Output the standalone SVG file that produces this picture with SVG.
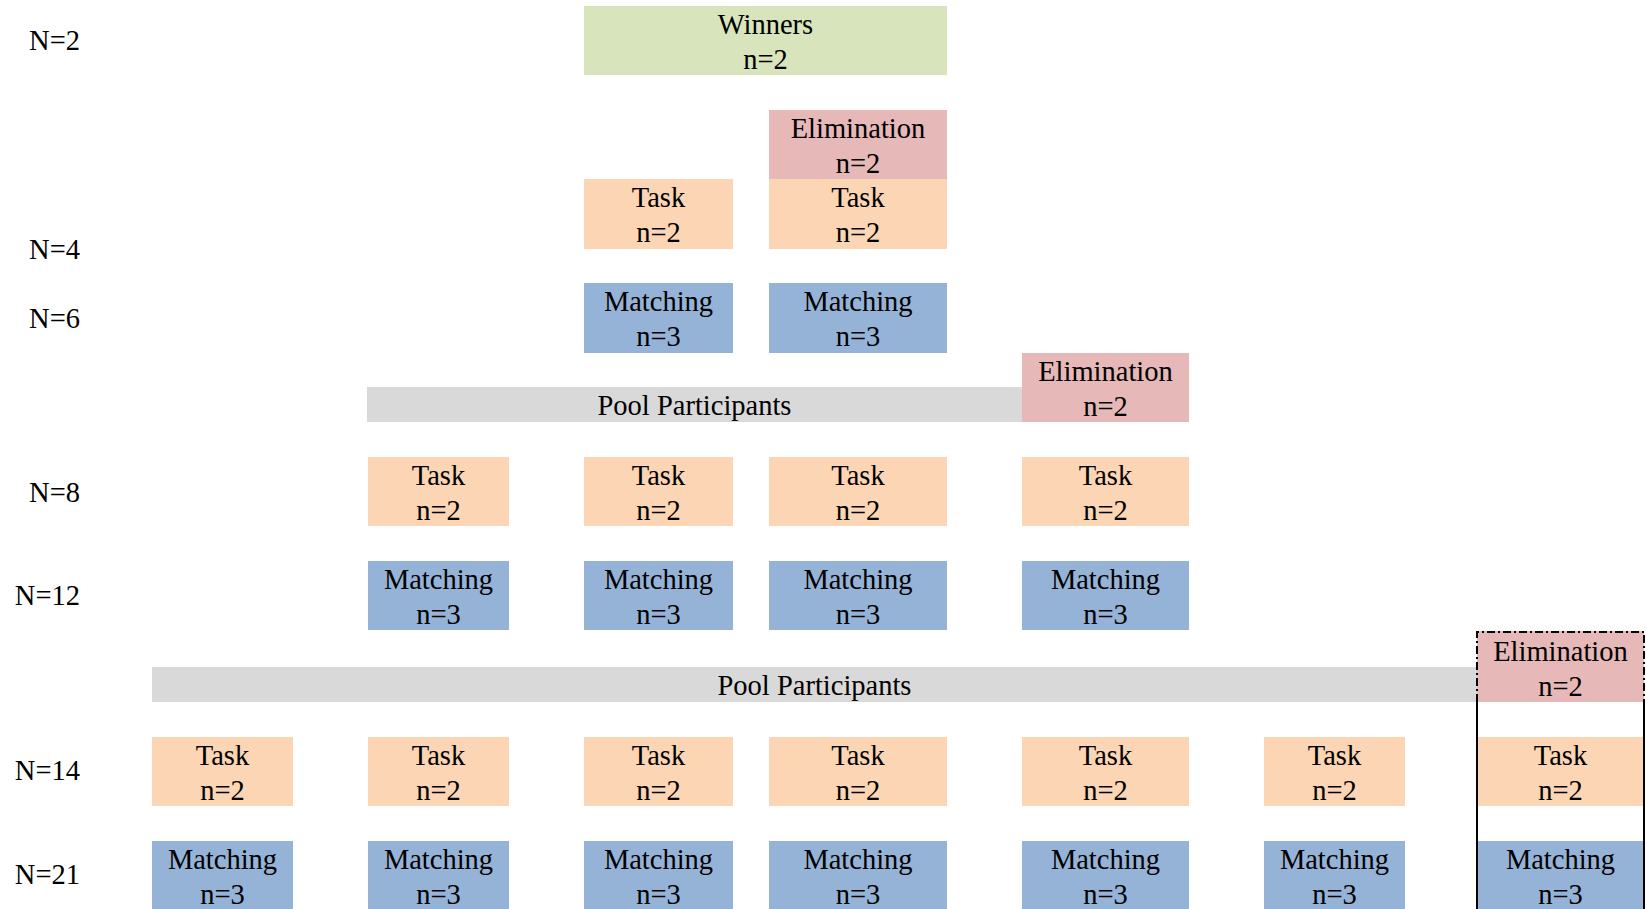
<svg xmlns="http://www.w3.org/2000/svg" width="1646" height="909" viewBox="0 0 1646 909">
<style>
text{font-family:"Liberation Serif","Times New Roman",serif;font-size:28.5px;fill:#000;text-anchor:middle}
.lbl{text-anchor:end}
.win{fill:#D8E4BC}
.elim{fill:#E6B8B7}
.task{fill:#FCD5B4}
.match{fill:#95B3D7}
.pool{fill:#D9D9D9}
.dash{fill:none;stroke:#000;stroke-width:2;stroke-dasharray:8 3 2 3}
.solid{fill:none;stroke:#000;stroke-width:2}
</style>
<rect width="1646" height="909" fill="#fff"/>
<g id="labels">
<text class="lbl" x="80" y="50">N=2</text>
<text class="lbl" x="80" y="259">N=4</text>
<text class="lbl" x="80" y="328">N=6</text>
<text class="lbl" x="80" y="502">N=8</text>
<text class="lbl" x="80" y="605">N=12</text>
<text class="lbl" x="80" y="780">N=14</text>
<text class="lbl" x="80" y="884">N=21</text>
</g>
<g id="winners"><rect class="win" x="584" y="6" width="363" height="69"/><text x="765.5" y="34">Winners</text><text x="765.5" y="69">n=2</text></g>
<g id="elim1"><rect class="elim" x="769" y="110" width="178" height="69"/><text x="858" y="138">Elimination</text><text x="858" y="173">n=2</text></g>
<g id="task1a"><rect class="task" x="584" y="179" width="149" height="70"/><text x="658.5" y="207">Task</text><text x="658.5" y="242">n=2</text></g>
<g id="task1b"><rect class="task" x="769" y="179" width="178" height="70"/><text x="858" y="207">Task</text><text x="858" y="242">n=2</text></g>
<g id="match1a"><rect class="match" x="584" y="283" width="149" height="70"/><text x="658.5" y="311">Matching</text><text x="658.5" y="346">n=3</text></g>
<g id="match1b"><rect class="match" x="769" y="283" width="178" height="70"/><text x="858" y="311">Matching</text><text x="858" y="346">n=3</text></g>
<g id="pool1"><rect class="pool" x="367" y="387" width="655" height="35"/><text x="694.5" y="415">Pool Participants</text></g>
<g id="elim2"><rect class="elim" x="1022" y="353" width="167" height="69"/><text x="1105.5" y="381">Elimination</text><text x="1105.5" y="416">n=2</text></g>
<g id="task2a"><rect class="task" x="368" y="457" width="141" height="69"/><text x="438.5" y="485">Task</text><text x="438.5" y="520">n=2</text></g>
<g id="task2b"><rect class="task" x="584" y="457" width="149" height="69"/><text x="658.5" y="485">Task</text><text x="658.5" y="520">n=2</text></g>
<g id="task2c"><rect class="task" x="769" y="457" width="178" height="69"/><text x="858" y="485">Task</text><text x="858" y="520">n=2</text></g>
<g id="task2d"><rect class="task" x="1022" y="457" width="167" height="69"/><text x="1105.5" y="485">Task</text><text x="1105.5" y="520">n=2</text></g>
<g id="match2a"><rect class="match" x="368" y="561" width="141" height="69"/><text x="438.5" y="589">Matching</text><text x="438.5" y="624">n=3</text></g>
<g id="match2b"><rect class="match" x="584" y="561" width="149" height="69"/><text x="658.5" y="589">Matching</text><text x="658.5" y="624">n=3</text></g>
<g id="match2c"><rect class="match" x="769" y="561" width="178" height="69"/><text x="858" y="589">Matching</text><text x="858" y="624">n=3</text></g>
<g id="match2d"><rect class="match" x="1022" y="561" width="167" height="69"/><text x="1105.5" y="589">Matching</text><text x="1105.5" y="624">n=3</text></g>
<g id="pool2"><rect class="pool" x="152" y="667" width="1325" height="35"/><text x="814.5" y="695">Pool Participants</text></g>
<g id="elim3"><rect class="elim" x="1477" y="631" width="167" height="71"/><text x="1560.5" y="661">Elimination</text><text x="1560.5" y="696">n=2</text></g>
<g id="task3a"><rect class="task" x="152" y="737" width="141" height="69"/><text x="222.5" y="765">Task</text><text x="222.5" y="800">n=2</text></g>
<g id="task3b"><rect class="task" x="368" y="737" width="141" height="69"/><text x="438.5" y="765">Task</text><text x="438.5" y="800">n=2</text></g>
<g id="task3c"><rect class="task" x="584" y="737" width="149" height="69"/><text x="658.5" y="765">Task</text><text x="658.5" y="800">n=2</text></g>
<g id="task3d"><rect class="task" x="769" y="737" width="178" height="69"/><text x="858" y="765">Task</text><text x="858" y="800">n=2</text></g>
<g id="task3e"><rect class="task" x="1022" y="737" width="167" height="69"/><text x="1105.5" y="765">Task</text><text x="1105.5" y="800">n=2</text></g>
<g id="task3f"><rect class="task" x="1264" y="737" width="141" height="69"/><text x="1334.5" y="765">Task</text><text x="1334.5" y="800">n=2</text></g>
<g id="task3g"><rect class="task" x="1477" y="737" width="167" height="69"/><text x="1560.5" y="765">Task</text><text x="1560.5" y="800">n=2</text></g>
<g id="match3a"><rect class="match" x="152" y="841" width="141" height="70"/><text x="222.5" y="869">Matching</text><text x="222.5" y="904">n=3</text></g>
<g id="match3b"><rect class="match" x="368" y="841" width="141" height="70"/><text x="438.5" y="869">Matching</text><text x="438.5" y="904">n=3</text></g>
<g id="match3c"><rect class="match" x="584" y="841" width="149" height="70"/><text x="658.5" y="869">Matching</text><text x="658.5" y="904">n=3</text></g>
<g id="match3d"><rect class="match" x="769" y="841" width="178" height="70"/><text x="858" y="869">Matching</text><text x="858" y="904">n=3</text></g>
<g id="match3e"><rect class="match" x="1022" y="841" width="167" height="70"/><text x="1105.5" y="869">Matching</text><text x="1105.5" y="904">n=3</text></g>
<g id="match3f"><rect class="match" x="1264" y="841" width="141" height="70"/><text x="1334.5" y="869">Matching</text><text x="1334.5" y="904">n=3</text></g>
<g id="match3g"><rect class="match" x="1477" y="841" width="167" height="70"/><text x="1560.5" y="869">Matching</text><text x="1560.5" y="904">n=3</text></g>
<g id="highlight">
<path class="dash" d="M1477 702 V632 H1644 V702"/>
<path class="solid" d="M1477 702 V910 M1644 702 V910"/>
</g>
<g id="connectors"/>
</svg>
